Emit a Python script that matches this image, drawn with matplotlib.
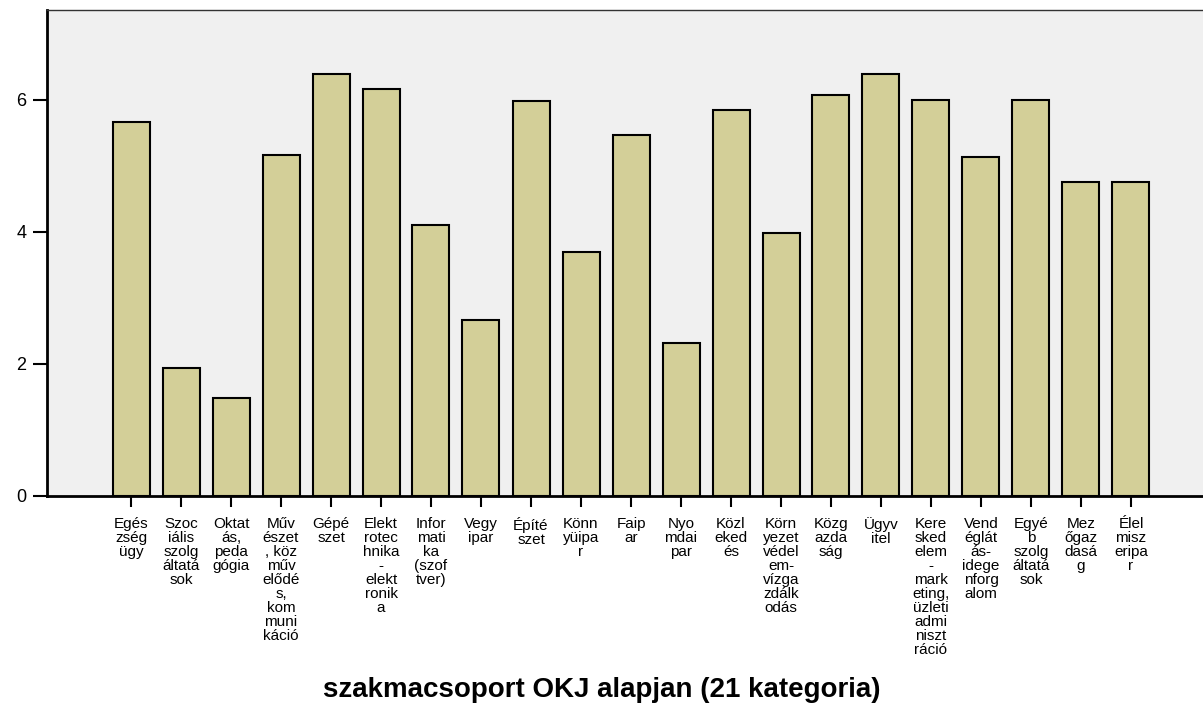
import matplotlib
matplotlib.use("Agg")
import matplotlib.pyplot as plt
import numpy as np

plt.rcParams["font.family"] = ["Liberation Sans", "DejaVu Sans"]

# ------------------------------------------------------------
# data
# ------------------------------------------------------------
labels = [
    "Egés\nzség\nügy",
    "Szoc\niális\nszolg\náltatá\nsok",
    "Oktat\nás,\npeda\ngógia",
    "Műv\nészet\n, köz\nműv\nelődé\ns,\nkom\nmuni\nkáció",
    "Gépé\nszet",
    "Elekt\nrotec\nhnika\n-\nelekt\nronik\na",
    "Infor\nmati\nka\n(szof\ntver)",
    "Vegy\nipar",
    "Építé\nszet",
    "Könn\nyüipa\nr",
    "Faip\nar",
    "Nyo\nmdai\npar",
    "Közl\neked\nés",
    "Körn\nyezet\nvédel\nem-\nvízga\nzdálk\nodás",
    "Közg\nazda\nság",
    "Ügyv\nitel",
    "Kere\nsked\nelem\n-\nmark\neting,\nüzleti\nadmi\nniszt\nráció",
    "Vend\néglát\nás-\nidege\nnforg\nalom",
    "Egyé\nb\nszolg\náltatá\nsok",
    "Mez\nőgaz\ndasá\ng",
    "Élel\nmisz\neripa\nr",
]
values = [5.67, 1.94, 1.49, 5.17, 6.39, 6.16, 4.11, 2.67, 5.98, 3.69, 5.47,
          2.32, 5.85, 3.99, 6.08, 6.39, 6.00, 5.13, 6.00, 4.75, 4.75]
y_ticks = [0, 2, 4, 6]
x_title = "szakmacsoport OKJ alapjan (21 kategoria)"

# ------------------------------------------------------------
# plot
# ------------------------------------------------------------
W, H = 1203, 710
fig = plt.figure(figsize=(W / 100, H / 100), dpi=100)
ax = fig.add_axes([47 / W, (H - 496) / H, 1 - 47 / W, 486 / H])
ax.set_facecolor("#f0f0f0")

x = np.arange(len(values))
ax.bar(x, values, width=0.74, color="#d3cf98", edgecolor="black", linewidth=1.5)

ax.set_xlim(-1.68, 21.44)
ax.set_ylim(0, 7.36)
ax.set_yticks(y_ticks)
ax.set_xticks(x)
ax.set_xticklabels(labels, fontsize=11, linespacing=1.0, va="top")
ax.tick_params(axis="x", length=8, width=1.5, pad=7)
ax.tick_params(axis="y", length=10, width=1.5, pad=5, labelsize=13)

ax.spines["right"].set_visible(False)
ax.spines["left"].set_linewidth(2)
ax.spines["bottom"].set_linewidth(2)
ax.spines["top"].set_linewidth(1)
ax.spines["top"].set_color("#333333")

fig.text(0.5, 1 - 690 / H, x_title, ha="center", va="center",
         fontsize=20, fontweight="bold")

fig.savefig("out.png", dpi=100)
